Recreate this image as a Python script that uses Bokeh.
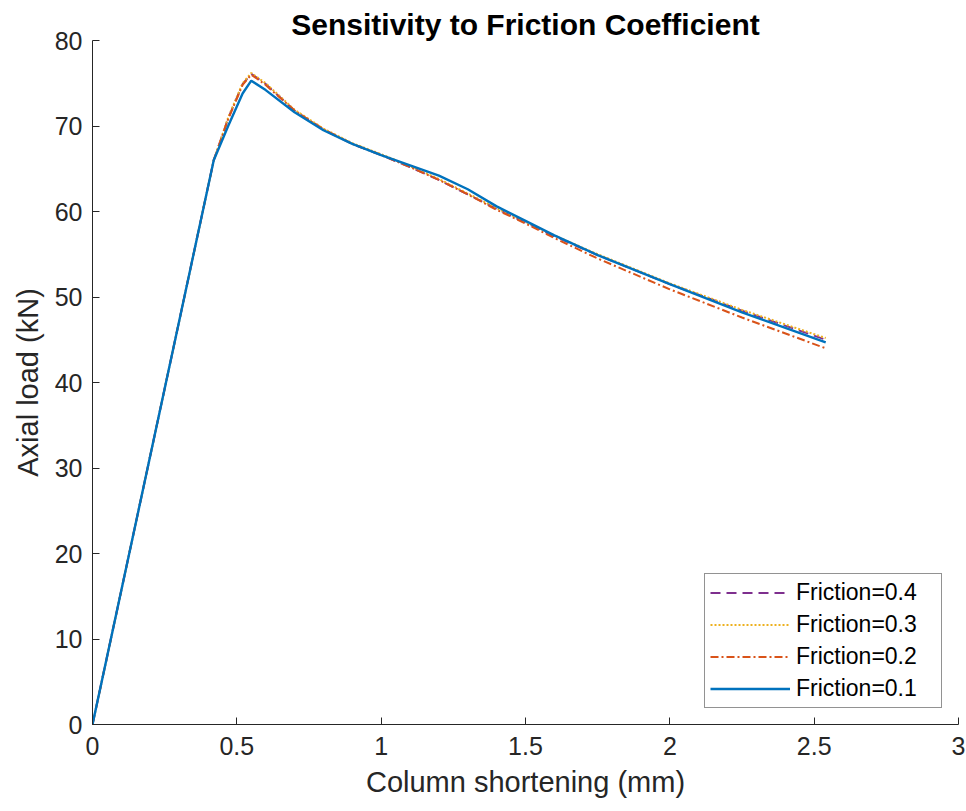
from bokeh.plotting import figure
from bokeh.models import Range1d, Legend, LegendItem, FixedTicker
from bokeh.embed import file_html
from bokeh.resources import INLINE

x_mm = [0, 0.42, 0.47, 0.52, 0.55, 0.6, 0.7, 0.8, 0.9, 1.0, 1.1, 1.2, 1.3, 1.4, 1.5, 1.6, 1.75, 2.0, 2.25, 2.54]
f01 = [0, 66, 70.0, 73.8, 75.3, 74.2, 71.6, 69.5, 67.9, 66.6, 65.4, 64.2, 62.6, 60.6, 58.9, 57.2, 54.9, 51.5, 48.2, 44.7]
f02 = [0, 66, 70.8, 74.8, 76.0, 74.8, 71.8, 69.6, 67.9, 66.6, 65.2, 63.7, 62.0, 60.2, 58.6, 56.9, 54.5, 50.9, 47.6, 44.0]
f03 = [0, 66, 71.0, 75.0, 76.2, 75.0, 71.9, 69.7, 68.0, 66.7, 65.3, 63.8, 62.1, 60.4, 58.8, 57.2, 55.0, 51.6, 48.5, 45.2]
f04 = [0, 66, 70.9, 74.9, 76.1, 74.9, 71.8, 69.6, 67.9, 66.6, 65.2, 63.7, 62.0, 60.3, 58.7, 57.1, 54.9, 51.5, 48.4, 45.0]
labels = ["Friction=0.4", "Friction=0.3", "Friction=0.2", "Friction=0.1"]
x_ticks = [0, 0.5, 1, 1.5, 2, 2.5, 3]
y_ticks = [0, 10, 20, 30, 40, 50, 60, 70, 80]

FONT = "Liberation Sans"
p = figure(width=966, height=811, output_backend="svg", toolbar_location=None,
           x_range=Range1d(0, 3), y_range=Range1d(0, 80),
           min_border_left=92, min_border_right=8, min_border_top=40, min_border_bottom=87,
           title="Sensitivity to Friction Coefficient")
p.title.text_font = FONT
p.title.text_font_size = "30px"
p.title.text_font_style = "bold"
p.title.align = "center"
p.title.text_color = "black"
p.title.standoff = 0
p.title.offset = 0
p.outline_line_color = None
p.grid.visible = False
p.background_fill_color = "white"
p.border_fill_color = "white"

for ax, ticks in ((p.xaxis, x_ticks), (p.yaxis, y_ticks)):
    ax.ticker = FixedTicker(ticks=ticks)
    ax.major_tick_in = 7
    ax.major_tick_out = 0
    ax.minor_tick_line_color = None
    ax.axis_line_color = "#262626"
    ax.major_tick_line_color = "#262626"
    ax.major_label_text_font = FONT
    ax.major_label_text_font_size = "25px"
    ax.major_label_text_color = "#262626"
    ax.axis_label_text_font = FONT
    ax.axis_label_text_font_size = "29px"
    ax.axis_label_text_font_style = "normal"
    ax.axis_label_text_color = "#262626"
p.xaxis.axis_label = "Column shortening (mm)"
p.yaxis.axis_label = "Axial load (kN)"
p.xaxis.major_label_standoff = 12
p.yaxis.major_label_standoff = 10
p.xaxis.axis_label_standoff = 8
p.yaxis.axis_label_standoff = 8

r4 = p.line(x_mm, f04, line_color="#7E2F8E", line_width=2, line_dash="10 6")
r3 = p.line(x_mm, f03, line_color="#EDB120", line_width=2, line_dash="2 2")
r2 = p.line(x_mm, f02, line_color="#D95319", line_width=2, line_dash="8 3 2 3")
r1 = p.line(x_mm, f01, line_color="#0072BD", line_width=2.4)

legend = Legend(items=[LegendItem(label=labels[0], renderers=[r4]),
                       LegendItem(label=labels[1], renderers=[r3]),
                       LegendItem(label=labels[2], renderers=[r2]),
                       LegendItem(label=labels[3], renderers=[r1])],
                location="bottom_right")
legend.label_text_font = FONT
legend.label_text_font_size = "23px"
legend.label_text_color = "black"
legend.glyph_width = 80
legend.glyph_height = 27
legend.label_height = 27
legend.label_width = 140
legend.label_standoff = 6
legend.spacing = 5
legend.padding = 5
legend.margin = 16
legend.border_line_color = "#262626"
legend.border_line_width = 1
legend.background_fill_alpha = 1
p.add_layout(legend)

open("out.html", "w").write(file_html(p, INLINE))
